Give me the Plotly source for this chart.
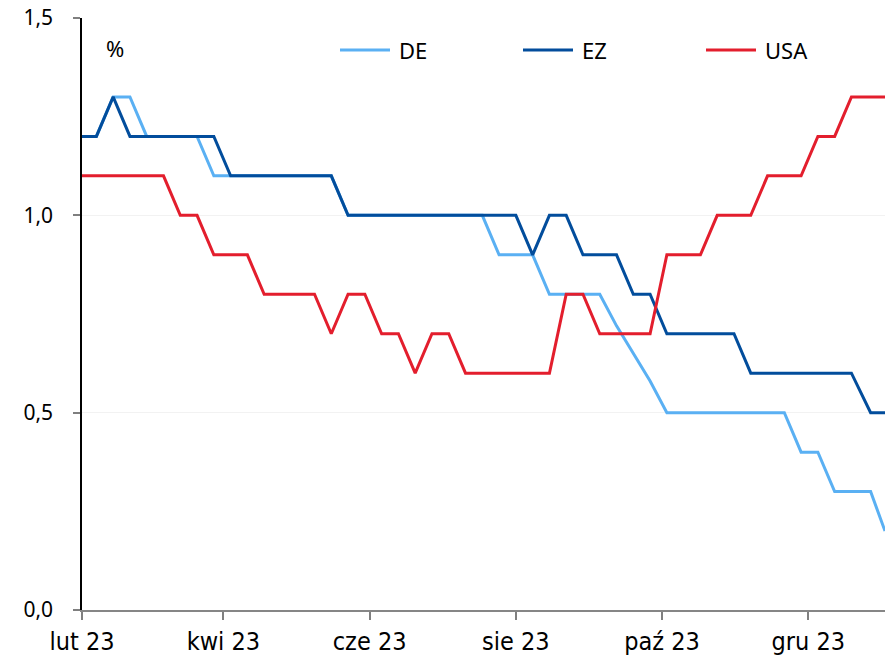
import pandas as pd
import plotly.graph_objects as go

# Weekly observation dates (Tuesdays), plus the two year-end readings
dates = (["2023-01-31"]
         + [d.strftime("%Y-%m-%d") for d in pd.date_range("2023-02-07", periods=46, freq="7D")]
         + ["2023-12-27", "2024-01-02"])

de = [1.2, 1.2, 1.3, 1.3, 1.2, 1.2, 1.2, 1.2,
      1.1, 1.1, 1.1, 1.1, 1.1, 1.1, 1.1, 1.1,
      1.0, 1.0, 1.0, 1.0, 1.0, 1.0, 1.0, 1.0, 1.0,
      0.9, 0.9, 0.9, 0.8, 0.8, 0.8, 0.8,
      0.72, 0.65, 0.58,
      0.5, 0.5, 0.5, 0.5, 0.5, 0.5, 0.5, 0.5,
      0.4, 0.4, 0.3, 0.3, 0.3, 0.2]

ez = [1.2, 1.2, 1.3, 1.2, 1.2, 1.2, 1.2, 1.2, 1.2,
      1.1, 1.1, 1.1, 1.1, 1.1, 1.1, 1.1,
      1.0, 1.0, 1.0, 1.0, 1.0, 1.0, 1.0, 1.0, 1.0, 1.0, 1.0,
      0.9, 1.0, 1.0, 0.9, 0.9, 0.9,
      0.8, 0.8,
      0.7, 0.7, 0.7, 0.7, 0.7,
      0.6, 0.6, 0.6, 0.6, 0.6, 0.6, 0.6,
      0.5, 0.5]

usa = [1.1, 1.1, 1.1, 1.1, 1.1, 1.1,
       1.0, 1.0, 0.9, 0.9, 0.9,
       0.8, 0.8, 0.8, 0.8, 0.7, 0.8, 0.8, 0.7, 0.7, 0.6, 0.7, 0.7,
       0.6, 0.6, 0.6, 0.6, 0.6, 0.6,
       0.8, 0.8, 0.7, 0.7, 0.7, 0.7,
       0.9, 0.9, 0.9, 1.0, 1.0, 1.0, 1.1, 1.1, 1.1, 1.2, 1.2,
       1.3, 1.3, 1.3]

series_names = ["DE", "EZ", "USA"]
series_colors = ["#5AB0F3", "#024D9C", "#E31E2D"]

tick_dates = ["2023-02-01", "2023-04-01", "2023-06-01", "2023-08-01", "2023-10-01", "2023-12-01"]
tick_labels = ["lut 23", "kwi 23", "cze 23", "sie 23", "paź 23", "gru 23"]

W, H = 885, 657
ML, MR, MT, MB = 82, 0, 18, 47
plot_w = W - ML - MR
plot_h = H - MT - MB

fig = go.Figure()
for name, vals, col in zip(series_names, [de, ez, usa], series_colors):
    fig.add_trace(go.Scatter(x=dates, y=vals, mode="lines", name=name,
                             line=dict(color=col, width=3), showlegend=False))

# Legend: line sample + label, placed along the top of the plot
legend_px = [340, 523, 706]
legend_y = (H - MB - 50) / plot_h
for name, col, px in zip(series_names, series_colors, legend_px):
    x0 = (px - ML) / plot_w
    x1 = (px + 50 - ML) / plot_w
    fig.add_shape(type="line", xref="paper", yref="paper",
                  x0=x0, x1=x1, y0=legend_y, y1=legend_y,
                  line=dict(color=col, width=3))
    fig.add_annotation(xref="paper", yref="paper", x=(px + 57 - ML) / plot_w, y=legend_y,
                       text=name, showarrow=False, xanchor="left", yanchor="middle",
                       font=dict(family="Noto Sans", size=22, color="#000000"))

fig.add_annotation(xref="paper", yref="paper", x=(104 - ML) / plot_w, y=(H - MB - 48) / plot_h,
                   text="%", showarrow=False, xanchor="left", yanchor="middle",
                   font=dict(family="Noto Sans", size=22, color="#000000"))

fig.update_layout(
    width=W, height=H,
    margin=dict(l=ML, r=MR, t=MT, b=MB),
    paper_bgcolor="white", plot_bgcolor="white",
    separators=", ",
    showlegend=False,
)
fig.update_xaxes(
    type="date",
    range=["2023-02-01", "2024-01-02"],
    tickvals=tick_dates, ticktext=tick_labels,
    ticks="outside", ticklen=8, tickwidth=1.5, tickcolor="#7F7F7F",
    showline=True, linecolor="#868686", linewidth=2,
    showgrid=False, zeroline=False,
    tickfont=dict(family="Liberation Sans Narrow, DejaVu Sans Condensed, Roboto", size=25, color="#000000"),
)
fig.update_yaxes(
    range=[0, 1.5], tickvals=[0, 0.5, 1.0, 1.5], tickformat=".1f",
    ticks="outside", ticklen=7, tickwidth=1.5, tickcolor="#7F7F7F",
    showline=True, linecolor="#000000", linewidth=1.5,
    showgrid=True, gridcolor="#F2F2F2", gridwidth=1,
    zeroline=False, ticklabelstandoff=16,
    tickfont=dict(family="Noto Sans", size=21, color="#000000"),
)

fig.write_html("out.html")
